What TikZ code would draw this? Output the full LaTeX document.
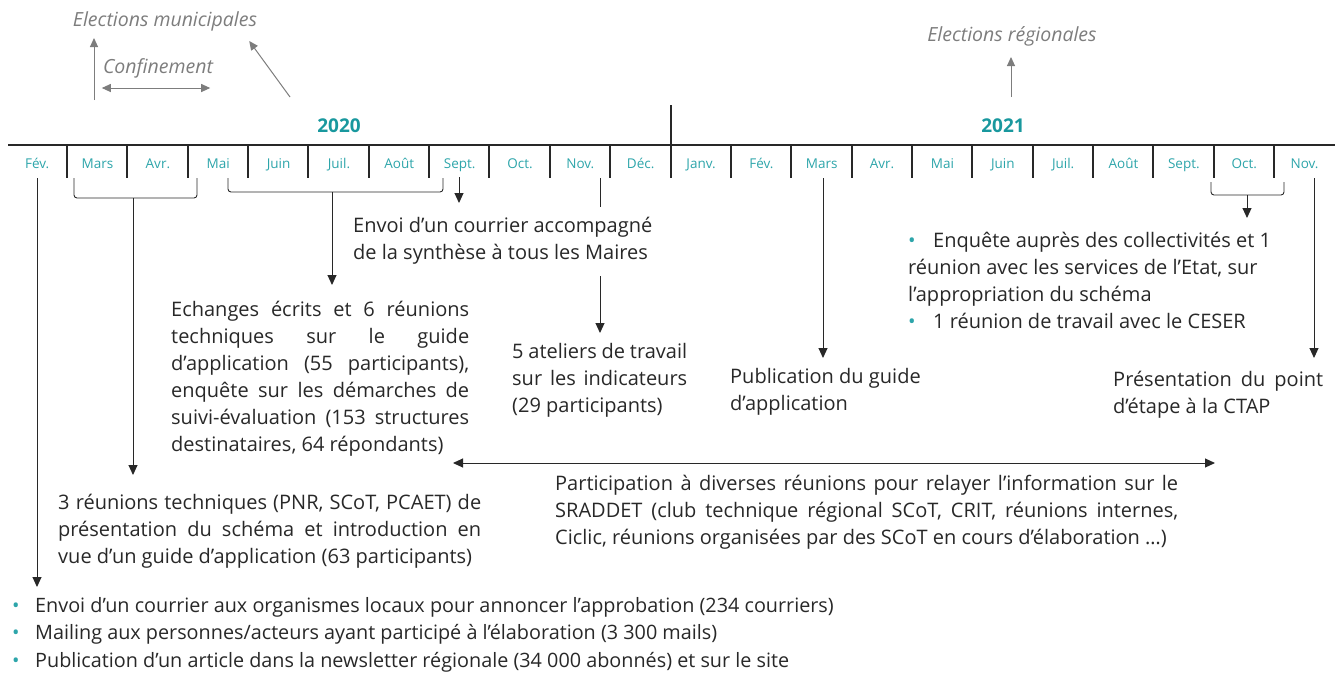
\documentclass[tikz,border=0pt]{standalone}
\usepackage{fontspec}
\setmainfont{Open Sans}
\usetikzlibrary{arrows.meta,positioning,calc}
\definecolor{monthcol}{RGB}{45,165,170}
\definecolor{yearcol}{RGB}{25,152,158}
\definecolor{notecol}{RGB}{125,125,125}
\definecolor{inkcol}{RGB}{40,40,40}
\hyphenpenalty=10000
\exhyphenpenalty=10000
\tolerance=10000

\newcommand{\puce}{\makebox[25pt][l]{\textcolor{monthcol}{•}}}
\newcommand{\puceb}{\makebox[23pt][l]{\textcolor{monthcol}{•}}}
\newcommand{\souple}{\spaceskip=0.26em plus 0.6em minus 0.07em\relax}

\begin{document}
\begin{tikzpicture}[
    x=1pt, y=-1pt,
    month/.style={text=monthcol, font=\fontsize{13.5}{15}\selectfont, inner sep=0pt, anchor=base},
    year/.style={text=yearcol, font=\fontsize{19}{21}\selectfont\bfseries, inner sep=0pt, anchor=base},
    note/.style={text=notecol, font=\fontsize{19.5}{22}\selectfont\itshape, inner sep=0pt, anchor=base},
    txt/.style={text=inkcol, font=\fontsize{20}{27}\selectfont, execute at begin node=\souple, inner sep=0pt, anchor=base west, align=justify},
    arr/.style={-{Triangle[length=10pt,width=9pt]}, line width=1pt, inkcol},
    garr/.style={-{Triangle[length=9pt,width=8pt]}, line width=1pt, notecol},
    tick/.style={line width=2pt, inkcol},
    brace/.style={line width=0.9pt, rounded corners=3pt, inkcol}
]
\useasboundingbox (0,0) rectangle (1338,673);

% timeline
\draw[tick] (8,145) -- (1335,145);
\foreach \k in {0,...,20}
    \draw[tick] ({67+\k*60.35},145) -- ++(0,33);
\draw[tick] (670.5,105) -- (670.5,178);
\foreach \name [count=\i] in {Fév.,Mars,Avr.,Mai,Juin,Juil.,Août,Sept.,Oct.,Nov.,Déc.,Janv.,Fév.,Mars,Avr.,Mai,Juin,Juil.,Août,Sept.,Oct.,Nov.}
    \node[month] (m\i) at ({37.2+(\i-1)*60.35},168) {\name};
\node[year] (y2020) at (339,132) {2020};
\node[year] (y2021) at (1003,132) {2021};

% contexte
\node[note] (elecmun) at (165,26) {Elections municipales};
\node[note] (confin) at (158,73) {Confinement};
\node[note] (elecreg) at (1012,41) {Elections régionales};
\coordinate (munfoot) at (94,100);
\coordinate (diagfoot) at (290,97);
\coordinate (regfoot) at (1011,97);
\draw[garr] (munfoot) -- ($(munfoot |- elecmun.base)+(0,12)$);
\draw[garr] (diagfoot) -- ($(elecmun.base east)+(-8,15)$);
\draw[garr, {Triangle[length=9pt,width=8pt]}-{Triangle[length=9pt,width=8pt]}] ($(confin.base west)+(-1,15)$) -- ($(confin.base east)+(-3,15)$);
\draw[garr] (regfoot) -- ($(regfoot |- elecreg.base)+(0,16)$);

% actions
\node[txt, text width=330pt, align=left] (envoi) at (353,232) {Envoi d’un courrier accompagné\\de la synthèse à tous les Maires};
\node[txt, text width=298pt] (echanges) at (171,316) {Echanges écrits et 6 réunions\linebreak techniques sur le guide\linebreak d’application (55 participants),\linebreak enquête sur les démarches de\linebreak suivi-évaluation (153 structures\linebreak destinataires, 64 répondants)};
\node[txt, text width=423pt] (reunions) at (58,509) {3 réunions techniques (PNR, SCoT, PCAET) de\linebreak présentation du schéma et introduction en\linebreak vue d’un guide d’application (63 participants)};
\node[txt, text width=175pt] (ateliers) at (512,358) {5 ateliers de travail\linebreak sur les indicateurs\linebreak (29 participants)};
\node[txt, text width=200pt, align=left] (guide) at (730,383) {Publication du guide\\d’application};
\node[txt, text width=377pt, align=left] (enquete) at (908,247) {\hangindent=25pt\hangafter=1 \puce Enquête auprès des collectivités et 1\\réunion avec les services de l’Etat, sur\\l’appropriation du schéma\par\hangindent=25pt\hangafter=1 \puce 1 réunion de travail avec le CESER};
\node[txt, text width=210pt] (ctap) at (1113,386) {Présentation du point\linebreak d’étape à la CTAP};
\node[txt, text width=623pt] (particip) at (555,490) {Participation à diverses réunions pour relayer l’information sur le\linebreak SRADDET (club technique régional SCoT, CRIT, réunions internes,\linebreak Ciclic, réunions organisées par des SCoT en cours d’élaboration …)};
\node[txt, text width=1000pt, align=left, font=\fontsize{19.8}{27.5}\selectfont] (bilan) at (12,612) {\puceb Envoi d’un courrier aux organismes locaux pour annoncer l’approbation (234 courriers)\\\puceb Mailing aux personnes/acteurs ayant participé à l’élaboration (3 300 mails)\\\puceb Publication d’un article dans la newsletter régionale (34 000 abonnés) et sur le site};

% connecteurs
\coordinate (fevtop) at (37,178);
\draw[arr] (fevtop) -- ($(fevtop |- bilan.base)+(0,-25)$);
\draw[brace] (74,178) |- (197,198) -- (197,178);
\coordinate (marsmid) at (133,198);
\draw[arr] (marsmid) -- ($(marsmid |- reunions.base)+(0,-34)$);
\draw[brace] (228,178) |- (443,192) -- (443,178);
\coordinate (maimid) at (332,192);
\draw[arr] (maimid) -- ($(maimid |- echanges.base)+(0,-31)$);
\coordinate (septtop) at (459,177);
\draw[arr] (septtop) -- ($(septtop |- envoi.base)+(0,-29)$);
\coordinate (novtop) at (600,178);
\draw[line width=1pt, inkcol] (novtop) -- ($(novtop |- envoi.base)+(0,-25)$);
\draw[arr] ($(novtop |- envoi.base)+(0,44)$) -- ($(novtop |- ateliers.base)+(0,-25)$);
\coordinate (mars21top) at (823,178);
\draw[arr] (mars21top) -- ($(mars21top |- guide.base)+(0,-25)$);
\draw[brace] (1211,182) |- (1284,195) -- (1284,182);
\coordinate (octmid) at (1247,195);
\draw[arr] (octmid) -- ($(octmid |- enquete.base)+(0,-29)$);
\coordinate (nov21top) at (1314,178);
\draw[arr] (nov21top) -- ($(nov21top |- ctap.base)+(0,-28)$);
\draw[arr, {Triangle[length=10pt,width=9pt]}-{Triangle[length=10pt,width=9pt]}] ($(particip.base west)+(-102,-27)$) -- ($(particip.base west)+(660,-27)$);
\end{tikzpicture}
\end{document}
